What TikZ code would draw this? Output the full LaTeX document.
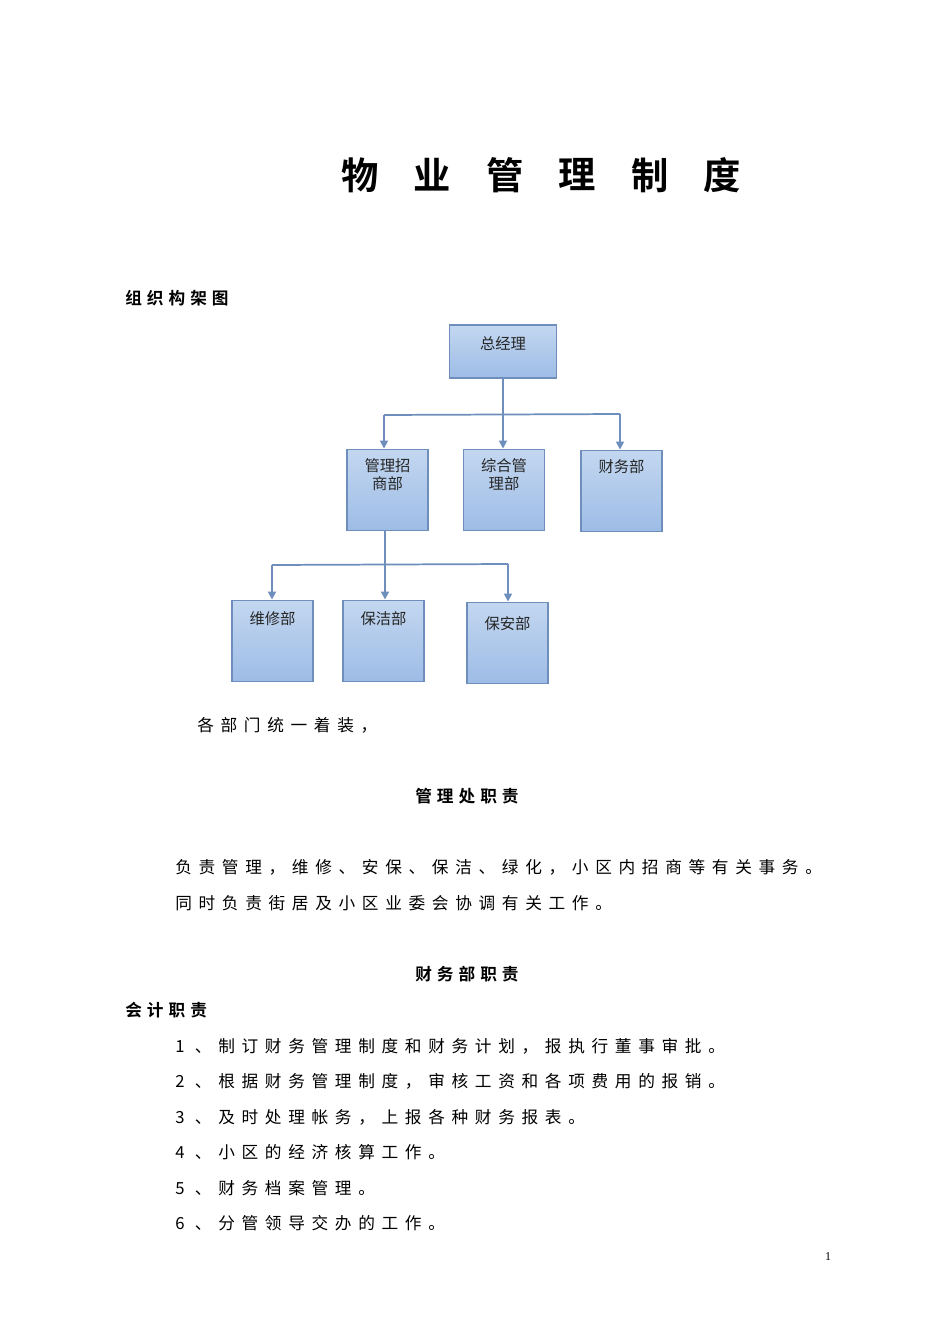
\documentclass[tikz,border=0pt]{standalone}
\usepackage{fontspec}
\setmainfont{Liberation Serif}
\newfontfamily\cjk{Noto Sans CJK SC}
\newfontfamily\cjkb{Noto Sans CJK SC Bold}
\usetikzlibrary{arrows.meta}
\definecolor{bord}{HTML}{6E8FBC}
\definecolor{topc}{HTML}{C3D7F0}
\definecolor{botc}{HTML}{9DBCE6}
\tikzset{
 box/.style={draw=bord,line width=1.2pt,top color=topc,bottom color=botc,minimum width=61pt,minimum height=61pt,inner sep=0pt},
 boxtext/.style={anchor=north,font=\cjk\fontsize{11.5}{13.5}\selectfont,align=center,inner sep=0pt,text=black!85},
 conn/.style={draw=bord,line width=1.3pt},
 arr/.style={conn,-{Triangle[width=6pt,length=6pt]}},
 body/.style={anchor=west,inner sep=0pt,font=\cjk\fontsize{12.5}{15}\selectfont\addfontfeature{LetterSpace=40}},
 bodyb/.style={anchor=west,inner sep=0pt,font=\cjkb\fontsize{12.5}{15}\selectfont\addfontfeature{LetterSpace=30}}
}
\begin{document}
\begin{tikzpicture}[x=0.75pt,y=-0.75pt]
\useasboundingbox (0,0) rectangle (950,1344);
\fill[white] (0,0) rectangle (950,1344);
% title
\foreach \c [count=\i from 0] in {物,业,管,理,制,度}
  \node[font=\cjkb\fontsize{28}{30}\selectfont,inner sep=0pt] (t\i) at (360+72.5*\i,175) {\c};
\node[bodyb] (h1) at (125,298) {组织构架图};
% boxes
\node[box,minimum width=80pt,minimum height=40pt] (gm) at (503,351.5) {};
\node[box] (b1) at (387.5,490) {};
\node[box] (b2) at (504,490) {};
\node[box] (b3) at (621.5,491) {};
\node[box] (c1) at (272.5,641) {};
\node[box] (c2) at (383.5,641) {};
\node[box] (c3) at (507.5,643) {};
\node[boxtext] at ([yshift=-9pt]gm.north) {总经理};
\node[boxtext] at ([yshift=-7pt]b1.north) {管理招\\商部};
\node[boxtext] at ([yshift=-7pt]b2.north) {综合管\\理部};
\node[boxtext] at ([yshift=-7pt]b3.north) {财务部};
\node[boxtext] at ([yshift=-9pt]c1.north) {维修部};
\node[boxtext] at ([yshift=-9pt]c2.north) {保洁部};
\node[boxtext] at ([yshift=-11pt]c3.north) {保安部};
% connectors
\coordinate (j1) at (503,414);
\coordinate (l1) at (384,415);
\coordinate (r1) at (620,414);
\draw[conn] (gm.south) -- (j1);
\draw[conn] (l1) -- (r1);
\draw[arr] (l1) -- (l1 |- b1.north);
\draw[arr] (j1) -- (j1 |- b2.north);
\draw[arr] (r1) -- (r1 |- b3.north);
\coordinate (j2) at (385,564);
\coordinate (l2) at (272,565);
\coordinate (r2) at (508,564);
\draw[conn] (j2 |- b1.south) -- (j2);
\draw[conn] (l2) -- (r2);
\draw[arr] (l2) -- (l2 |- c1.north);
\draw[arr] (j2) -- (j2 |- c2.north);
\draw[arr] (r2) -- (r2 |- c3.north);
% text
\node[body] (p0) at (197,725) {各部门统一着装，};
\node[bodyb] (h2) at (415,796) {管理处职责};
\node[body] (p1) at (175,867) {负责管理，维修、安保、保洁、绿化，小区内招商等有关事务。};
\node[body] (p2) at (175,903) {同时负责街居及小区业委会协调有关工作。};
\node[bodyb] (h3) at (415,974) {财务部职责};
\node[bodyb] (h4) at (125,1010) {会计职责};
\node[body] (i1) at (175,1046) {1\ 、制订财务管理制度和财务计划，报执行董事审批。};
\node[body] (i2) at (175,1081) {2\ 、根据财务管理制度，审核工资和各项费用的报销。};
\node[body] (i3) at (175,1117) {3\ 、及时处理帐务，上报各种财务报表。};
\node[body] (i4) at (175,1152) {4\ 、小区的经济核算工作。};
\node[body] (i5) at (175,1188) {5\ 、财务档案管理。};
\node[body] (i6) at (175,1223) {6\ 、分管领导交办的工作。};
\node[font=\fontsize{9}{10}\selectfont,inner sep=0pt] (pg) at (828,1257) {1};
\end{tikzpicture}
\end{document}
